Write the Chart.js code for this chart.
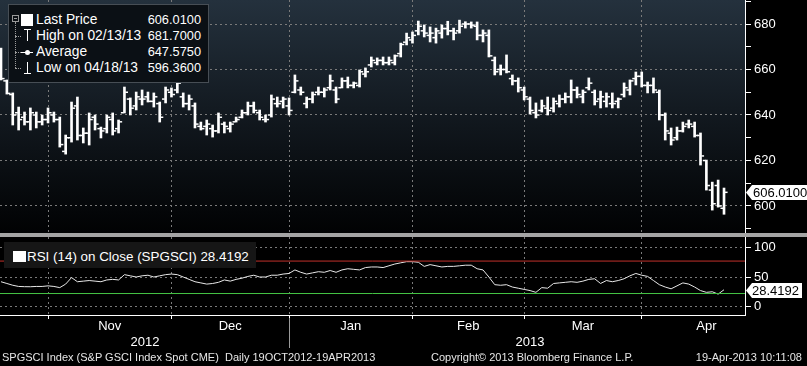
<!DOCTYPE html>
<html>
<head>
<meta charset="utf-8">
<script src="https://cdn.jsdelivr.net/npm/chart.js@4.4.1/dist/chart.umd.min.js"></script>
<style>
  html, body { margin: 0; padding: 0; background: #000; }
  body { width: 807px; height: 366px; position: relative; overflow: hidden;
         font-family: "Liberation Sans", Arial, sans-serif; color: #fff; }
  canvas { position: absolute; left: 0; }
  #main { top: 0; }
  #rsi { top: 237px; }
  .abs { position: absolute; }
  .sep { left: 0; top: 233px; width: 807px; height: 4px; background: #a4a4a4; }
  .box { left: 8px; top: 4px; width: 199px; height: 77px; background: #0b1015; border: 1px solid #474e55; }
  .row { font-size: 13.8px; line-height: 16px; white-space: pre; color: #fff; }
  .val { text-align: right; width: 80px; font-size: 12.8px; }
  .tree { border-left: 1px dotted #9a9a9a; }
  .branch { border-top: 1px dotted #9a9a9a; height: 0; }
  .rbox { left: 4px; top: 242px; width: 252px; height: 26px; background: #161616; }
  .foot { font-size: 11px; line-height: 13px; top: 351px; white-space: pre; color: #e6e6e6; }
</style>
</head>
<body>
<canvas id="main" width="807" height="233"></canvas>
<div class="abs sep"></div>
<canvas id="rsi" width="807" height="129"></canvas>

<!-- price legend -->
<div class="abs box"></div>
<div class="abs" style="left:12px;top:15px;width:5px;height:5px;border:1px solid #9a9a9a;"></div>
<div class="abs" style="left:14px;top:18px;width:3px;height:1px;background:#9a9a9a;"></div>
<div class="abs tree" style="left:15px;top:22px;height:46px;"></div>
<div class="abs branch" style="left:15px;top:36px;width:6px;"></div>
<div class="abs branch" style="left:15px;top:52px;width:6px;"></div>
<div class="abs branch" style="left:15px;top:68px;width:6px;"></div>
<div class="abs" style="left:21px;top:14px;width:12px;height:12px;background:#fff;"></div>
<div class="abs" style="left:24px;top:29px;width:7px;height:1px;background:#fff;"></div>
<div class="abs" style="left:27px;top:29px;width:1px;height:12px;background:#fff;"></div>
<div class="abs" style="left:21px;top:52px;width:12px;height:1px;background:#fff;"></div>
<div class="abs" style="left:25px;top:50px;width:5px;height:5px;border-radius:3px;background:#fff;"></div>
<div class="abs" style="left:27px;top:62px;width:1px;height:12px;background:#fff;"></div>
<div class="abs" style="left:24px;top:73px;width:7px;height:1px;background:#fff;"></div>
<div class="abs row" style="left:36px;top:12px;">Last Price</div>
<div class="abs row" style="left:36px;top:28px;">High on 02/13/13</div>
<div class="abs row" style="left:36px;top:44px;">Average</div>
<div class="abs row" style="left:36px;top:60px;">Low on 04/18/13</div>
<div class="abs row val" style="left:121px;top:12px;">606.0100</div>
<div class="abs row val" style="left:121px;top:28px;">681.7000</div>
<div class="abs row val" style="left:121px;top:44px;">647.5750</div>
<div class="abs row val" style="left:121px;top:60px;">596.3600</div>

<!-- RSI legend -->
<div class="abs rbox"></div>
<div class="abs" style="left:13px;top:251px;width:13px;height:11px;background:#fff;"></div>
<div class="abs row" style="left:27px;top:249px;font-size:13.4px;">RSI (14) on Close (SPGSCI) 28.4192</div>

<!-- footer -->
<div class="abs foot" style="left:2px;">SPGSCI Index (S&amp;P GSCI Index Spot CME)  Daily 19OCT2012-19APR2013</div>
<div class="abs foot" style="left:431px;">Copyright© 2013 Bloomberg Finance L.P.</div>
<div class="abs foot" style="right:5px;">19-Apr-2013 10:11:08</div>

<script>
// ─── DATA ─────────────────────────────────────────────────────────────────────
// one bar per trading day, 19 Oct 2012 .. 18/19 Apr 2013 (index = trading day)

const highs = [
  669.4, 655.4, 649.7, 643.5, 641.3, 643.1, 641.3, 640.0, 643.1, 641.3,
  639.1, 631.2, 645.7, 647.9, 634.3, 640.9, 640.0, 634.7, 640.0, 640.9,
  637.8, 652.3, 647.5, 650.1, 651.0, 650.1, 649.7, 645.7, 652.3, 651.9,
  656.7, 649.7, 648.8, 645.3, 636.9, 637.8, 635.6, 640.9, 636.9, 636.9,
  639.1, 642.2, 645.7, 645.7, 642.2, 640.0, 648.8, 647.9, 647.9, 647.5,
  657.6, 652.3, 647.9, 650.1, 652.3, 651.9, 657.6, 652.3, 656.3, 656.7,
  654.5, 659.8, 660.7, 665.5, 665.1, 665.5, 665.5, 666.4, 671.6, 676.0,
  676.5, 681.3, 679.6, 678.7, 678.2, 679.6, 681.2, 678.2, 681.7, 681.0,
  680.9, 680.9, 677.4, 677.4, 665.5, 662.0, 666.4, 657.6, 656.3, 652.3,
  647.9, 645.3, 646.6, 647.9, 647.5, 648.8, 649.7, 655.4, 652.3, 651.0,
  656.3, 651.0, 650.5, 649.7, 649.7, 647.5, 654.1, 655.4, 658.9, 658.9,
  654.5, 656.3, 651.0, 640.9, 634.3, 634.7, 636.9, 637.8, 636.9, 632.1,
  620.2, 610.5, 611.4, 607.9
];
const lows = [
  655.4, 649.2, 635.6, 633.4, 635.6, 633.4, 634.3, 635.6, 636.5, 636.9,
  625.9, 622.8, 628.1, 629.0, 627.7, 626.8, 633.4, 629.9, 632.1, 631.2,
  632.1, 640.9, 640.0, 642.2, 644.4, 645.7, 643.5, 636.9, 645.3, 647.9,
  649.7, 643.5, 642.2, 634.3, 633.4, 631.2, 630.3, 632.1, 632.1, 632.5,
  636.9, 638.7, 640.0, 640.9, 637.8, 636.9, 639.1, 643.5, 643.1, 640.0,
  649.7, 648.8, 643.1, 645.3, 648.8, 647.9, 651.0, 645.3, 651.9, 651.9,
  651.9, 652.3, 656.7, 661.1, 662.0, 662.0, 662.0, 662.0, 665.5, 670.8,
  671.6, 675.2, 674.3, 672.1, 671.6, 673.8, 675.2, 673.0, 676.0, 678.2,
  678.2, 673.0, 672.1, 665.5, 657.6, 657.6, 658.5, 653.2, 650.1, 646.6,
  640.4, 638.7, 641.3, 640.0, 641.3, 643.5, 645.3, 645.3, 647.5, 645.3,
  651.0, 644.4, 643.1, 643.5, 643.1, 643.1, 647.9, 648.8, 653.2, 652.3,
  649.7, 649.7, 637.8, 629.0, 626.8, 629.0, 632.5, 634.3, 630.3, 618.0,
  607.0, 598.2, 599.5, 596.36
];
const opens = [
  668, 655, 649, 641, 639, 637, 640, 637, 638, 640,
  638, 624, 630, 644, 631, 632, 639, 634, 634, 638,
  634, 641, 647, 644, 647, 648, 646, 645, 647, 650,
  651, 648, 645, 644, 635, 635, 634, 633, 636, 634,
  637, 639, 641, 644, 641, 638, 640, 645, 646, 644,
  650, 651, 645, 647, 650, 650, 652, 651, 652, 655,
  653, 653, 658, 662, 663, 664, 663, 663, 667, 672,
  673, 677, 677, 675, 674, 676, 678, 677, 677, 680,
  680, 679, 675, 675, 664, 660, 660, 656, 655, 651,
  647, 641, 642, 643, 643, 645, 647, 648, 651, 648,
  652, 650, 647, 646, 645, 646, 649, 651, 656, 657,
  653, 653, 650, 640, 632, 630, 633, 636, 635, 631,
  620, 607, 609, 599
];
const closes = [
  656, 649.5, 640, 638, 637, 641, 637, 638, 641, 638,
  627, 630, 643, 631, 632, 638, 636, 633, 639, 633,
  637, 650, 643, 648, 647, 646, 648, 639, 651, 649,
  654, 645, 647, 636, 634, 636, 633, 639, 635, 636,
  638, 641, 644, 642, 639, 638, 647, 645, 647, 642,
  655, 650, 647, 649, 650, 651, 655, 647, 655, 653,
  654, 659, 659, 664, 664, 663, 664, 666, 671, 674,
  675, 679, 676, 676, 677, 678, 677, 676, 679, 680,
  679.5, 675, 676, 666, 659, 660, 659, 655, 652, 648,
  642, 640, 644, 642, 646, 647, 648, 651, 649, 650,
  654, 646, 648, 648, 645, 647, 652, 655, 657, 653,
  653, 651, 640, 633, 629, 633, 635, 636, 631, 622,
  609, 601, 600, 606.01
];
const rsi = [
  42, 39, 36, 34, 33.6, 33.5, 34, 34, 35, 34,
  32, 38, 49, 42, 43, 44, 43, 42, 45, 46,
  45, 54, 52, 50, 52, 53, 50, 52, 54, 55,
  54, 50, 46, 42, 40, 38, 39, 41, 45, 43,
  46, 48, 51, 53, 50, 50, 53, 53, 55, 56,
  62, 58, 55, 57, 59, 58, 61, 58, 62, 64,
  63, 62, 66, 67, 67, 66, 69, 72, 74, 76,
  76, 75, 68, 71, 69, 67, 68, 68, 69, 70,
  70, 64, 62, 50, 37, 36, 37, 33, 31, 29,
  27, 24, 32, 31, 39, 40, 41, 42, 41, 43,
  46, 47, 39, 44, 42, 44, 47, 52, 56, 53,
  51, 44, 37, 33, 30, 35, 40, 38, 33, 27,
  24, 25, 21, 28.4192
];

const priceTicks  = [600, 620, 640, 660, 680];
const priceMinor  = [590, 610, 630, 650, 670, 690];
const rsiTicks    = [0, 50, 100];
const rsiLevels   = [77, 22];
const monthStarts = [8, 29, 49, 70, 89, 109];
const monthNames  = ['Nov', 'Dec', 'Jan', 'Feb', 'Mar', 'Apr'];
const monthMids   = [18.5, 39, 59.5, 79.5, 99, 120];
const yearNames   = ['2012', '2013'];
const yearMids    = [24.5, 90];
const yearBreaks  = [49];

// ─── SHARED ───────────────────────────────────────────────────────────────────

const FONT = { family: "'Liberation Sans', Arial, sans-serif", size: 13 };
const GRID = '#7a7a7a';
const X_MIN = -0.17, X_MAX = 126.57;
const idx = highs.map((_, i) => i);

// chart.js pads the plot for edge labels; the panels here must fill the canvas
function noPad(s) {
  s.paddingTop = 0; s.paddingBottom = 0;
  s.paddingLeft = 0; s.paddingRight = 0;
}

function tagPlugin(id, valueOf, label, left) {
  return {
    id,
    afterDraw(chart) {
      const { ctx, chartArea, scales: { y } } = chart;
      const yc = Math.round(y.getPixelForValue(valueOf())) + 0.5;
      ctx.save();
      ctx.font = "13px 'Liberation Sans', Arial, sans-serif";
      const w = ctx.measureText(label).width;
      const x0 = chartArea.right + 1;
      ctx.fillStyle = '#fff';
      ctx.beginPath();
      ctx.moveTo(x0, yc);
      ctx.lineTo(x0 + 6, yc - 7.5);
      ctx.lineTo(Math.min(807, x0 + 9 + w), yc - 7.5);
      ctx.lineTo(Math.min(807, x0 + 9 + w), yc + 7.5);
      ctx.lineTo(x0 + 6, yc + 7.5);
      ctx.closePath();
      ctx.fill();
      ctx.fillStyle = '#000';
      ctx.textBaseline = 'middle';
      ctx.fillText(label, x0 + left, yc + 0.5);
      ctx.restore();
    }
  };
}

// ─── MAIN PRICE PANEL ─────────────────────────────────────────────────────────

const bgPlugin = {
  id: 'bg',
  beforeDraw(chart) {
    const { ctx, chartArea: a } = chart;
    const g = ctx.createLinearGradient(0, a.top, 0, a.bottom);
    g.addColorStop(0, '#24313d');
    g.addColorStop(0.55, '#10161c');
    g.addColorStop(1, '#010203');
    ctx.save();
    ctx.fillStyle = g;
    ctx.fillRect(a.left, a.top, a.right - a.left, a.bottom - a.top);
    ctx.restore();
  }
};

new Chart(document.getElementById('main'), {
  type: 'bar',
  data: {
    datasets: [
      {
        type: 'bar',
        data: idx.map(i => ({ x: i, y: [lows[i], highs[i]] })),
        backgroundColor: '#fff',
        borderWidth: 0,
        barThickness: 2,
      },
      {
        type: 'scatter',
        data: idx.map(i => ({ x: i - 0.37, y: opens[i] })),
        pointStyle: 'line', pointRadius: 1.4, borderColor: '#fff', borderWidth: 1.5,
      },
      {
        type: 'scatter',
        data: idx.map(i => ({ x: i + 0.37, y: closes[i] })),
        pointStyle: 'line', pointRadius: 1.4, borderColor: '#fff', borderWidth: 1.5,
      },
    ]
  },
  options: {
    responsive: false,
    animation: false,
    events: [],
    layout: { padding: 0, autoPadding: false },
    plugins: { legend: { display: false }, tooltip: { enabled: false } },
    scales: {
      x: {
        type: 'linear', min: X_MIN, max: X_MAX, offset: false,
        afterBuildTicks: s => { s.ticks = monthStarts.map(v => ({ value: v })); },
        afterFit: s => { s.height = 0; noPad(s); },
        ticks: { display: false },
        border: { display: false, dash: [2, 3] },
        grid: { offset: false, color: GRID, drawTicks: false },
      },
      y: {
        position: 'right', min: 588.13, max: 690.55, beginAtZero: false,
        afterBuildTicks: s => {
          s.ticks = [...priceTicks, ...priceMinor].sort((a, b) => a - b).map(v => ({ value: v }));
        },
        afterFit: s => { s.width = 62; noPad(s); },
        border: { display: true, color: '#fff', width: 1, dash: [2, 3] },
        grid: {
          color: c => priceTicks.includes(c.tick && c.tick.value) ? GRID : 'rgba(0,0,0,0)',
          tickColor: '#fff', tickLength: 6,
        },
        ticks: {
          color: '#fff', font: FONT, padding: 3,
          callback: v => priceTicks.includes(v) ? String(v) : '',
        },
      },
    },
  },
  plugins: [bgPlugin, tagPlugin('lastTag', () => closes[closes.length - 1], '606.0100', 7)],
});

// ─── RSI PANEL ────────────────────────────────────────────────────────────────

const xTicks = [...monthStarts, ...monthMids, ...yearMids].sort((a, b) => a - b);

const yearSepPlugin = {
  id: 'yearSep',
  afterDraw(chart) {
    const { ctx, chartArea, scales: { x } } = chart;
    ctx.save();
    ctx.strokeStyle = '#9a9a9a';
    ctx.lineWidth = 1;
    for (const v of yearBreaks) {
      const px = Math.round(x.getPixelForValue(v)) + 0.5;
      ctx.beginPath();
      ctx.moveTo(px, chartArea.bottom + 3);
      ctx.lineTo(px, chartArea.bottom + 33);
      ctx.stroke();
    }
    ctx.restore();
  }
};

new Chart(document.getElementById('rsi'), {
  type: 'line',
  data: {
    datasets: [
      {
        data: [{ x: X_MIN, y: rsiLevels[0] }, { x: X_MAX, y: rsiLevels[0] }],
        borderColor: '#c2302b', borderWidth: 1, pointRadius: 0,
      },
      {
        data: [{ x: X_MIN, y: rsiLevels[1] }, { x: X_MAX, y: rsiLevels[1] }],
        borderColor: '#44c244', borderWidth: 1, pointRadius: 0,
      },
      {
        data: idx.map(i => ({ x: i, y: rsi[i] })),
        borderColor: '#e8e8e8', borderWidth: 1, pointRadius: 0, tension: 0,
      },
    ]
  },
  options: {
    responsive: false,
    animation: false,
    events: [],
    layout: { padding: 0, autoPadding: false },
    plugins: { legend: { display: false }, tooltip: { enabled: false } },
    scales: {
      x: {
        type: 'linear', min: X_MIN, max: X_MAX, offset: false,
        afterBuildTicks: s => { s.ticks = xTicks.map(v => ({ value: v })); },
        afterFit: s => { s.height = 51; noPad(s); },
        border: { display: true, color: '#fff', width: 1, dash: [2, 3] },
        grid: {
          offset: false,
          color: c => monthStarts.includes(c.tick && c.tick.value) ? GRID : 'rgba(0,0,0,0)',
          tickColor: c => monthStarts.includes(c.tick && c.tick.value) ? '#fff' : 'rgba(0,0,0,0)',
          tickLength: 4,
        },
        ticks: {
          autoSkip: false, maxRotation: 0, minRotation: 0,
          color: '#fff', font: FONT, padding: 0,
          callback: v => {
            const m = monthMids.indexOf(v);
            if (m >= 0) return monthNames[m];
            const y = yearMids.indexOf(v);
            if (y >= 0) return ['', yearNames[y]];
            return '';
          },
        },
      },
      y: {
        position: 'right', min: -14.4, max: 117.8, beginAtZero: false,
        afterBuildTicks: s => { s.ticks = rsiTicks.map(v => ({ value: v })); },
        afterFit: s => { s.width = 62; noPad(s); },
        border: { display: true, color: '#fff', width: 1, dash: [2, 3] },
        grid: { color: GRID, tickColor: '#fff', tickLength: 6 },
        ticks: { color: '#fff', font: FONT, padding: 3 },
      },
    },
  },
  plugins: [yearSepPlugin, tagPlugin('rsiTag', () => rsi[rsi.length - 1], '28.4192', 6)],
});
</script>
</body>
</html>
